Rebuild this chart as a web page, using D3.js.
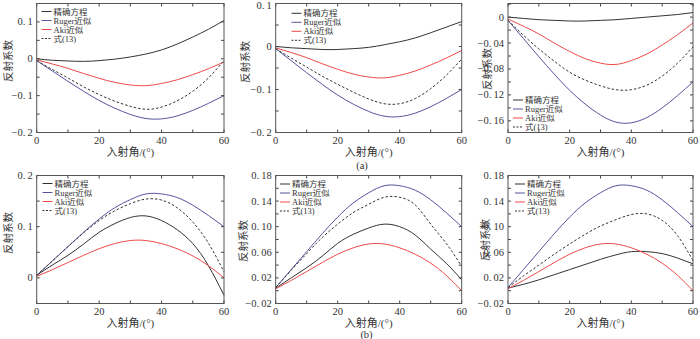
<!DOCTYPE html>
<html>
<head>
<meta charset="utf-8">
<script src="https://cdn.jsdelivr.net/npm/d3@7"></script>
<style>
  body { margin: 0; background: #fff; }
  text { font-family: "Liberation Serif", "DejaVu Serif", serif; fill: #333; white-space: pre; }
  .cjk { font-family: "Liberation Serif", "Noto Sans CJK SC", serif; }
</style>
</head>
<body>
<div id="chart"></div>
<script>
// angles (deg)
const angles = [0, 5, 10, 15, 20, 25, 30, 35, 40, 45, 50, 55, 60];

// legend
const seriesNames = ["精确方程", "Ruger近似", "Aki近似", "式(13)"];

// (a) row
const rugerA = [-0.005, -0.033, -0.061, -0.088, -0.113, -0.134, -0.151, -0.162, -0.163, -0.155, -0.140, -0.121, -0.100];
const akiA   = [-0.003, -0.014, -0.026, -0.040, -0.053, -0.064, -0.071, -0.073, -0.067, -0.057, -0.043, -0.027, -0.009];
const exact1 = [0, -0.004, -0.006, -0.007, -0.005, -0.001, 0.005, 0.013, 0.024, 0.040, 0.059, 0.080, 0.104];
const eq13_1 = [-0.005, -0.029, -0.052, -0.076, -0.097, -0.115, -0.129, -0.137, -0.131, -0.114, -0.088, -0.052, -0.005];
const exact2 = [0, -0.003, -0.005, -0.007, -0.007, -0.005, -0.002, 0.004, 0.011, 0.020, 0.032, 0.045, 0.058];
const eq13_2 = [-0.005, -0.027, -0.048, -0.069, -0.088, -0.106, -0.122, -0.133, -0.133, -0.121, -0.098, -0.067, -0.029];
const exact3 = [0, -0.002, -0.004, -0.005, -0.006, -0.006, -0.005, -0.004, -0.002, 0, 0.002, 0.004, 0.007];
const eq13_3 = [-0.005, -0.028, -0.049, -0.068, -0.085, -0.097, -0.106, -0.112, -0.112, -0.105, -0.091, -0.071, -0.046];

// (b) row
const rugerB = [0.005, 0.033, 0.061, 0.089, 0.115, 0.137, 0.153, 0.164, 0.164, 0.157, 0.142, 0.122, 0.100];
const akiB   = [0.003, 0.016, 0.030, 0.044, 0.057, 0.067, 0.073, 0.073, 0.067, 0.057, 0.043, 0.024, 0.000];
const exact4 = [0.005, 0.025, 0.044, 0.066, 0.089, 0.106, 0.118, 0.121, 0.112, 0.094, 0.067, 0.024, -0.034];
const eq13_4 = [0.005, 0.033, 0.061, 0.088, 0.112, 0.131, 0.145, 0.154, 0.152, 0.137, 0.109, 0.068, 0.012];
const exact5 = [0.004, 0.020, 0.036, 0.054, 0.074, 0.088, 0.098, 0.104, 0.100, 0.087, 0.065, 0.043, 0.017];
const eq13_5 = [0.005, 0.032, 0.058, 0.083, 0.104, 0.122, 0.135, 0.146, 0.146, 0.134, 0.104, 0.074, 0.038];
const exact6 = [0.004, 0.010, 0.017, 0.025, 0.033, 0.041, 0.049, 0.056, 0.061, 0.061, 0.058, 0.051, 0.042];
const eq13_6 = [0.005, 0.023, 0.040, 0.057, 0.073, 0.088, 0.101, 0.111, 0.119, 0.120, 0.110, 0.086, 0.047];

// ticks
const xTicks = [0, 10, 20, 30, 40, 50, 60];
const xTickLabels = [0, 20, 40, 60];
const yTicks1 = [-0.2, -0.1, 0, 0.1];
const yTicks2 = [-0.2, -0.1, 0, 0.1];
const yTicks3 = [-0.16, -0.12, -0.08, -0.04, 0];
const yTicks4 = [0, 0.1, 0.2];
const yTicks5 = [-0.02, 0.02, 0.06, 0.10, 0.14, 0.18];
const yTicks6 = [-0.02, 0.02, 0.06, 0.10, 0.14, 0.18];

const colors = ["#333333", "#55559f", "#ee4a4a", "#333333"];

const svg = d3.select("#chart").append("svg")
    .attr("width", 700)
    .attr("height", 339);

svg.append("rect").attr("width", 700).attr("height", 339).attr("fill", "#fff");

// panels: position + data
const panels = [
    { x0: 36.7, x1: 224, y0: 3.5, y1: 132.5, dom: [-0.2, 0.15], ticks: yTicks1, minor: 0.05, dec: 1,
      data: [exact1, rugerA, akiA, eq13_1], leg: [41.5, 11.5], ylab: [8, 61] },
    { x0: 275.7, x1: 461.7, y0: 3.5, y1: 132.5, dom: [-0.2, 0.1], ticks: yTicks2, minor: 0.05, dec: 1,
      data: [exact2, rugerA, akiA, eq13_2], leg: [291.5, 13.3], ylab: [245, 62] },
    { x0: 508, x1: 693, y0: 3.5, y1: 132.5, dom: [-0.178, 0.021], ticks: yTicks3, minor: 0.02, dec: 2,
      data: [exact3, rugerA, akiA, eq13_3], leg: [513, 100], ylab: [486.5, 69] },
    { x0: 36.7, x1: 224, y0: 175.5, y1: 303.5, dom: [-0.05, 0.2], ticks: yTicks4, minor: 0.05, dec: 1,
      data: [exact4, rugerB, akiB, eq13_4], leg: [42.5, 183.5], ylab: [8, 233] },
    { x0: 275.7, x1: 461.7, y0: 175.5, y1: 303.5, dom: [-0.02, 0.18], ticks: yTicks5, minor: 0.02, dec: 2,
      data: [exact5, rugerB, akiB, eq13_5], leg: [280, 184], ylab: [243, 241] },
    { x0: 508, x1: 693, y0: 175.5, y1: 303.5, dom: [-0.02, 0.18], ticks: yTicks6, minor: 0.02, dec: 2,
      data: [exact6, rugerB, akiB, eq13_6], leg: [515, 184], ylab: [485, 240] }
];

function fmt(v, dec) {
    if (Math.abs(v) < 1e-9) return "0";
    const s = Math.abs(v).toFixed(dec).split(".");
    return (v < 0 ? "\u2212" : "") + s[0] + ".\u2009" + s[1];
}

panels.forEach(p => {
    const x = d3.scaleLinear().domain([0, 60]).range([p.x0, p.x1]);
    const y = d3.scaleLinear().domain(p.dom).range([p.y1, p.y0]);
    const g = svg.append("g");

    // curves
    const line = d3.line()
        .x((d, i) => x(angles[i]))
        .y(d => y(d))
        .curve(d3.curveNatural);

    p.data.forEach((arr, k) => {
        g.append("path")
            .datum(arr)
            .attr("d", line)
            .attr("fill", "none")
            .attr("stroke", colors[k])
            .attr("stroke-width", 1)
            .attr("stroke-dasharray", k === 3 ? "2.5,2" : null);
    });

    // x ticks inside, bottom + top
    xTicks.forEach(t => {
        g.append("line").attr("x1", x(t)).attr("x2", x(t)).attr("y1", p.y1).attr("y2", p.y1 - 3)
            .attr("stroke", "#444");
        g.append("line").attr("x1", x(t)).attr("x2", x(t)).attr("y1", p.y0).attr("y2", p.y0 + 3)
            .attr("stroke", "#444");
    });
    xTickLabels.forEach(t => {
        g.append("text").attr("x", x(t)).attr("y", p.y1 + 11.5)
            .attr("text-anchor", "middle").attr("font-size", 10.5).text(t);
    });

    // y ticks (major + minor), left + right
    const yMinor = d3.range(Math.ceil(p.dom[0] / p.minor - 1e-6), Math.floor(p.dom[1] / p.minor + 1e-6) + 1)
        .map(k => k * p.minor);
    yMinor.forEach(t => {
        g.append("line").attr("x1", p.x0).attr("x2", p.x0 + 3).attr("y1", y(t)).attr("y2", y(t))
            .attr("stroke", "#444");
        g.append("line").attr("x1", p.x1).attr("x2", p.x1 - 3).attr("y1", y(t)).attr("y2", y(t))
            .attr("stroke", "#444");
    });
    p.ticks.forEach(t => {
        g.append("text").attr("x", p.x0 - 4).attr("y", Math.max(y(t) + 3.5, 9))
            .attr("text-anchor", "end").attr("font-size", 10.5).text(fmt(t, p.dec));
    });

    // frame
    g.append("rect").attr("x", p.x0).attr("y", p.y0)
        .attr("width", p.x1 - p.x0).attr("height", p.y1 - p.y0)
        .attr("fill", "none").attr("stroke", "#555").attr("stroke-width", 1);

    // axis titles
    g.append("text").attr("class", "cjk")
        .attr("x", (p.x0 + p.x1) / 2).attr("y", p.y1 + 23)
        .attr("text-anchor", "middle").attr("font-size", 11)
        .text("入射角/(°)");
    g.append("text").attr("class", "cjk")
        .attr("transform", `translate(${p.ylab[0] + 4},${p.ylab[1]}) rotate(-90)`)
        .attr("text-anchor", "middle").attr("font-size", 10.5)
        .text("反射系数");

    // legend
    seriesNames.forEach((name, k) => {
        const ly = p.leg[1] + k * 9;
        g.append("line").attr("x1", p.leg[0]).attr("x2", p.leg[0] + 10)
            .attr("y1", ly).attr("y2", ly)
            .attr("stroke", colors[k]).attr("stroke-width", 1)
            .attr("stroke-dasharray", k === 3 ? "2,1.5" : null);
        g.append("text").attr("class", "cjk")
            .attr("x", p.leg[0] + 12).attr("y", ly + 3)
            .attr("font-size", 8.5).text(name);
    });
});

// sub-figure captions
svg.append("text").attr("x", 362).attr("y", 168.5).attr("text-anchor", "middle")
    .attr("font-size", 10.5).text("(a)");
svg.append("text").attr("x", 366.5).attr("y", 337.5).attr("text-anchor", "middle")
    .attr("font-size", 10.5).text("(b)");
</script>
</body>
</html>
